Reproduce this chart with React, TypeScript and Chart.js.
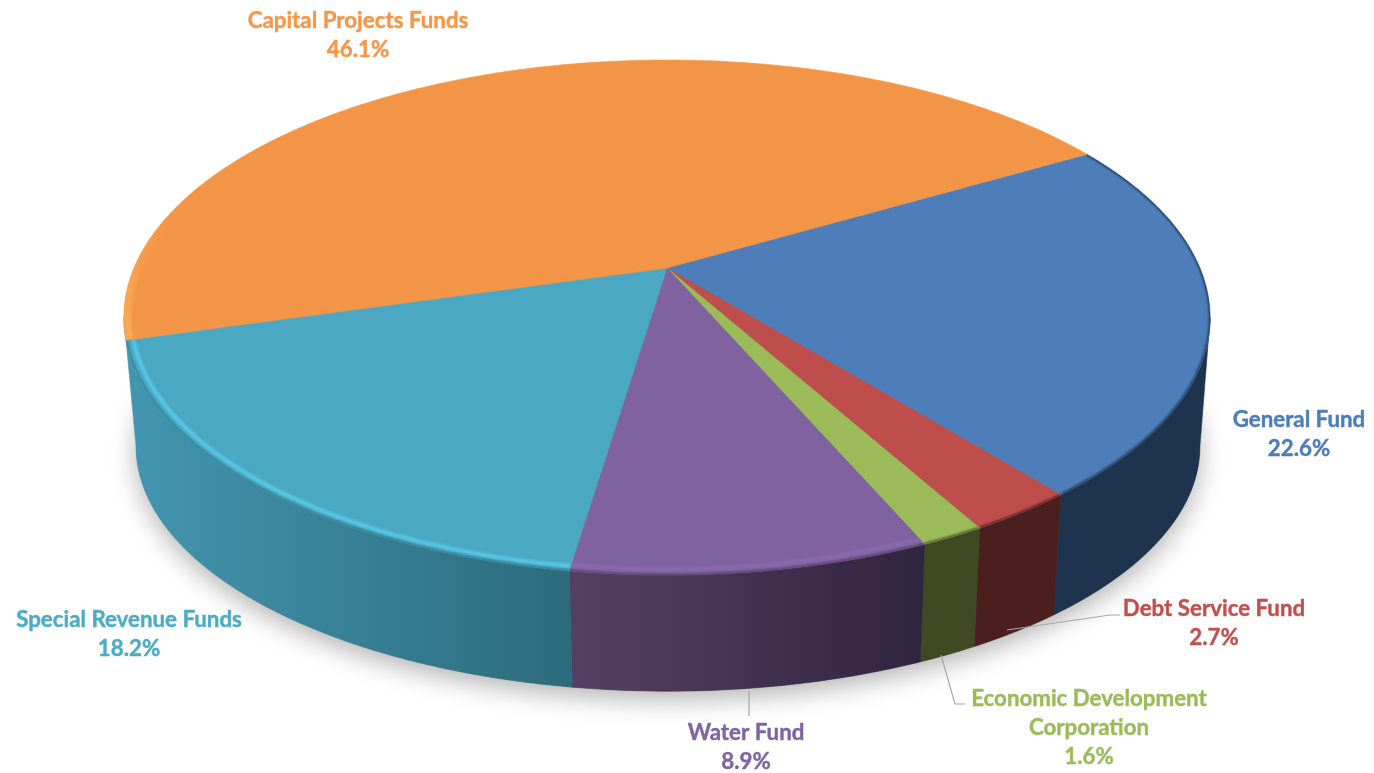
import React, { useEffect, useRef } from "react";
import { Chart, registerables } from "chart.js";

Chart.register(...registerables);

const categories = ["General Fund", "Debt Service Fund", "Economic Development Corporation", "Water Fund", "Special Revenue Funds", "Capital Projects Funds"];
const shares = [22.6, 2.7, 1.6, 8.9, 18.2, 46.1];
const firstSliceRotation = 59.8;
const faceColors = ["#4D7EBA", "#BE4E4B", "#9BBB59", "#8062A0", "#4AA8C3", "#F39546"];
const textColors = ["#4A7EBB", "#C0504D", "#9BBB59", "#8064A2", "#4BACC6", "#F79646"];
const wallStops = [
  ["#1E344E", "#1E344E"],
  ["#4C1F1F", "#4C1F1F"],
  ["#3F4A22", "#3F4A22"],
  ["#544064", "#30243E"],
  ["#4396B1", "#2C6B7C"],
  ["#F7A24E", "#F7A24E"],
];
const labelLines = [["General Fund"], ["Debt Service Fund"], ["Economic Development", "Corporation"], ["Water Fund"], ["Special Revenue Funds"], ["Capital Projects Funds"]];

const labelAnchors = [
  { x: 1299, y: 427 },
  { x: 1214, y: 616 },
  { x: 1089, y: 706 },
  { x: 746, y: 740 },
  { x: 129, y: 627 },
  { x: 358, y: 28 },
];
const leaders = [
  [[1007, 630], [1110, 615], [1120, 615]],
  [[941, 655], [955, 704], [965, 704]],
  [[749, 691], [749, 716]],
];

// Perspective of the pie's top and bottom discs.
const K = 0.1923;
const topDisc = { x0: 667, y0: 268, a: 533, b: 248 };
const lowDisc = { x0: 668, y0: 399, a: 522, b: 236 };
const frontFrom = Math.asin(K);
const frontTo = Math.PI - Math.asin(K);

function project(d: typeof topDisc, angle: number, r = 1): [number, number] {
  const u = Math.cos(angle) * r;
  const v = Math.sin(angle) * r;
  const w = 1 - K * v;
  return [d.x0 + (d.a * u) / w, d.y0 + (d.b * v) / w];
}

function rimPath(ctx: CanvasRenderingContext2D, d: typeof topDisc, from: number, to: number, r = 1, move = false) {
  const n = Math.max(2, Math.ceil(Math.abs(to - from) / 0.012));
  for (let i = 0; i <= n; i++) {
    const [x, y] = project(d, from + ((to - from) * i) / n, r);
    if (i === 0 && move) ctx.moveTo(x, y);
    else ctx.lineTo(x, y);
  }
}

const pie3d = {
  id: "pie3d",
  beforeDatasetsDraw(chart: any) {
    const ctx: CanvasRenderingContext2D = chart.ctx;
    const arcs = chart.getDatasetMeta(0).data as any[];

    // ground shadow
    ctx.save();
    ctx.shadowColor = "rgba(0,0,0,0.3)";
    ctx.shadowBlur = 26;
    ctx.shadowOffsetY = 8;
    ctx.fillStyle = "#888";
    ctx.beginPath();
    rimPath(ctx, lowDisc, 0, Math.PI * 2, 1, true);
    ctx.closePath();
    ctx.fill();
    ctx.restore();

    // walls: only the part of each slice that faces the viewer
    arcs.forEach((arc, i) => {
      if (i === 5) return; // the last slice's front sliver is covered by its neighbour's wall
      const startAngle = Math.max(arc.startAngle, frontFrom);
      const endAngle = i === 4 ? frontTo : Math.min(arc.endAngle, frontTo);
      if (endAngle <= startAngle) return;
      const [sx] = project(topDisc, startAngle);
      const [ex] = project(topDisc, endAngle);
      const g = ctx.createLinearGradient(Math.min(sx, ex), 0, Math.max(sx, ex), 0);
      g.addColorStop(0, wallStops[i][0]);
      g.addColorStop(1, wallStops[i][1]);
      ctx.fillStyle = g;
      ctx.strokeStyle = g;
      ctx.lineWidth = 0.6;
      ctx.beginPath();
      rimPath(ctx, topDisc, startAngle, endAngle, 1, true);
      rimPath(ctx, lowDisc, endAngle, startAngle, 1);
      ctx.closePath();
      ctx.fill();
      ctx.stroke();
    });

    // top face
    arcs.forEach((arc, i) => {
      const { startAngle, endAngle } = arc;
      ctx.save();
      ctx.beginPath();
      ctx.moveTo(topDisc.x0, topDisc.y0);
      rimPath(ctx, topDisc, startAngle, endAngle);
      ctx.closePath();
      ctx.fillStyle = faceColors[i];
      ctx.strokeStyle = faceColors[i];
      ctx.lineWidth = 0.6;
      ctx.fill();
      ctx.stroke();
      ctx.clip();

      // bevel along the rim
      const stroke = (color: string | CanvasGradient, width: number, r: number, blur: number, a = startAngle, b = endAngle) => {
        ctx.save();
        ctx.filter = `blur(${blur}px)`;
        ctx.strokeStyle = color;
        ctx.lineWidth = width;
        ctx.beginPath();
        rimPath(ctx, topDisc, a, b, r, true);
        ctx.stroke();
        ctx.restore();
      };
      if (i === 4) {
        stroke("#58C6E6", 4, 0.987, 1.3);
        stroke(wallStops[4][1], 2, 1.0, 1);
      } else if (i === 3) {
        stroke("#8A6AAE", 4, 0.985, 1.6);
        stroke(wallStops[3][0], 2.5, 1.0, 1.2);
      } else if (i === 5) {
        const g = ctx.createLinearGradient(0, 210, 0, 335);
        g.addColorStop(0, "rgba(252,170,85,0)");
        g.addColorStop(1, "rgba(252,170,85,1)");
        stroke(g, 9, 0.995, 1.5);
      } else {
        stroke(wallStops[i][0], 2.5, 1.0, 1.3);
      }
      ctx.restore();
    });

    return false;
  },
  afterDraw(chart: any) {
    const ctx: CanvasRenderingContext2D = chart.ctx;
    ctx.save();
    ctx.strokeStyle = "#A6A6A6";
    ctx.lineWidth = 1.2;
    leaders.forEach((pts) => {
      ctx.beginPath();
      pts.forEach(([x, y], j) => (j ? ctx.lineTo(x, y) : ctx.moveTo(x, y)));
      ctx.stroke();
    });
    ctx.textAlign = "center";
    ctx.textBaseline = "alphabetic";
    ctx.font = "700 22.3px Lato";
    ctx.lineWidth = 0.4;
    ctx.lineJoin = "round";
    labelLines.forEach((lines, i) => {
      ctx.fillStyle = textColors[i];
      ctx.strokeStyle = textColors[i];
      const rows = [...lines, shares[i].toFixed(1) + "%"];
      rows.forEach((t, j) => {
        const y = labelAnchors[i].y + j * 29.2;
        ctx.fillText(t, labelAnchors[i].x, y);
        ctx.strokeText(t, labelAnchors[i].x, y);
      });
    });
    ctx.restore();
  },
};

export default function App() {
  const ref = useRef<HTMLCanvasElement>(null);
  useEffect(() => {
    const chart = new Chart(ref.current!, {
      type: "pie",
      data: { labels: categories, datasets: [{ data: shares, backgroundColor: faceColors, borderWidth: 0 }] },
      options: {
        animation: false,
        responsive: false,
        rotation: firstSliceRotation,
        plugins: { legend: { display: false }, tooltip: { enabled: false } },
      },
      plugins: [pie3d],
    } as any);
    return () => chart.destroy();
  }, []);
  return (
    <div style={{ position: "absolute", left: 0, top: 0, width: 1374, height: 773, background: "#fff" }}>
      <canvas ref={ref} width={1374} height={773} style={{ display: "block" }} />
    </div>
  );
}
